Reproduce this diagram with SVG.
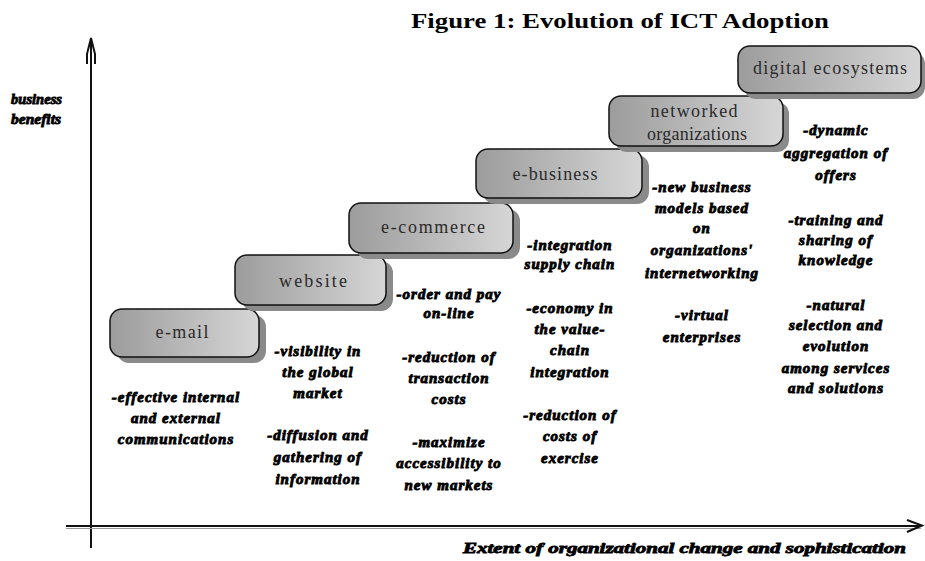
<svg xmlns="http://www.w3.org/2000/svg" width="925" height="561" viewBox="0 0 925 561">
  <style>
    .title { font-family: "Liberation Serif", "Times New Roman", serif; font-weight: bold; font-size: 22px; fill: #000; }
    .stage { fill: url(#stageFill); stroke: #111; stroke-width: 1.5; }
    .shadow { fill: #8a8a8a; }
    .stage-label { font-family: "Liberation Serif", "Times New Roman", serif; font-size: 18px; fill: #2a2a2a; text-anchor: middle; }
    .note { font-family: "Liberation Serif", "Times New Roman", serif; font-weight: bold; font-style: italic; font-size: 15px; letter-spacing: 1px; fill: #000; stroke: #000; stroke-width: 0.9; text-anchor: middle; }
    .axis-label { font-family: "Liberation Serif", "Times New Roman", serif; font-weight: bold; font-style: italic; font-size: 14px; fill: #000; stroke: #000; stroke-width: 0.8; }
    .axis { stroke: #111; stroke-width: 2; fill: none; }
  </style>
  <defs>
    <linearGradient id="stageFill" x1="0" y1="0" x2="1" y2="0">
      <stop offset="0" stop-color="#9c9c9c"/>
      <stop offset="1" stop-color="#d6d6d6"/>
    </linearGradient>
  </defs>

  <rect width="925" height="561" fill="#fff"/>

  <text class="title" x="411" y="28" textLength="418" lengthAdjust="spacingAndGlyphs">Figure 1: Evolution of ICT Adoption</text>

  <!-- axes -->
  <g id="axes">
    <line class="axis" x1="91" y1="38" x2="91" y2="548"/>
    <path class="axis" d="M87,64 L87,54 L91,38 L95,54 L95,64" stroke-width="1.6"/>
    <line class="axis" x1="66" y1="526" x2="921" y2="526"/>
    <line x1="66" y1="528.5" x2="921" y2="528.5" stroke="#999" stroke-width="1"/>
    <path class="axis" d="M907,520 L922,525.5 L907,532" stroke-width="1.6"/>
  </g>

  <text class="axis-label" x="11" y="104" textLength="51" lengthAdjust="spacingAndGlyphs">business</text>
  <text class="axis-label" x="11" y="124" textLength="50" lengthAdjust="spacingAndGlyphs">benefits</text>
  <text class="axis-label" x="463" y="553" textLength="443" lengthAdjust="spacingAndGlyphs">Extent of organizational change and sophistication</text>

  <!-- stages -->
  <g id="email">
    <rect class="shadow" x="117" y="315" width="149" height="48" rx="12"/>
    <rect class="stage" x="110" y="309" width="149" height="48" rx="12"/>
    <text class="stage-label" x="182" y="338" textLength="53" lengthAdjust="spacing">e-mail</text>
  </g>
  <g id="website">
    <rect class="shadow" x="242" y="261" width="151" height="50" rx="12"/>
    <rect class="stage" x="235" y="255" width="151" height="50" rx="12"/>
    <text class="stage-label" x="313" y="287" textLength="68" lengthAdjust="spacing">website</text>
  </g>
  <g id="ecommerce">
    <rect class="shadow" x="356" y="209" width="164" height="50" rx="12"/>
    <rect class="stage" x="349" y="203" width="164" height="50" rx="12"/>
    <text class="stage-label" x="433" y="233" textLength="104" lengthAdjust="spacing">e-commerce</text>
  </g>
  <g id="ebusiness">
    <rect class="shadow" x="483" y="155" width="166" height="49" rx="12"/>
    <rect class="stage" x="476" y="149" width="166" height="49" rx="12"/>
    <text class="stage-label" x="555" y="180" textLength="85" lengthAdjust="spacing">e-business</text>
  </g>
  <g id="networked">
    <rect class="shadow" x="615" y="102" width="174" height="50" rx="12"/>
    <rect class="stage" x="609" y="96" width="174" height="50" rx="12"/>
    <text class="stage-label" x="694" y="117" textLength="87" lengthAdjust="spacing">networked</text>
    <text class="stage-label" x="697" y="140" textLength="100" lengthAdjust="spacing">organizations</text>
  </g>
  <g id="ecosystems">
    <rect class="shadow" x="744" y="52" width="181" height="47" rx="12"/>
    <rect class="stage" x="738" y="46" width="183" height="47" rx="12"/>
    <text class="stage-label" x="830" y="74" textLength="154" lengthAdjust="spacing">digital ecosystems</text>
  </g>

  <!-- benefits per stage -->
  <g id="email-notes">
    <text class="note" x="176" y="402">-effective internal</text>
    <text class="note" x="176" y="423">and external</text>
    <text class="note" x="176" y="444">communications</text>
  </g>
  <g id="website-notes">
    <text class="note" x="318" y="356">-visibility in</text>
    <text class="note" x="318" y="377">the global</text>
    <text class="note" x="318" y="398">market</text>
    <text class="note" x="318" y="440">-diffusion and</text>
    <text class="note" x="318" y="462">gathering of</text>
    <text class="note" x="318" y="484">information</text>
  </g>
  <g id="ecommerce-notes">
    <text class="note" x="449" y="299">-order and pay</text>
    <text class="note" x="449" y="318">on-line</text>
    <text class="note" x="449" y="362">-reduction of</text>
    <text class="note" x="449" y="383">transaction</text>
    <text class="note" x="449" y="404">costs</text>
    <text class="note" x="449" y="447">-maximize</text>
    <text class="note" x="449" y="468">accessibility to</text>
    <text class="note" x="449" y="490">new markets</text>
  </g>
  <g id="ebusiness-notes">
    <text class="note" x="570" y="250">-integration</text>
    <text class="note" x="570" y="269">supply chain</text>
    <text class="note" x="570" y="313">-economy in</text>
    <text class="note" x="570" y="334">the value-</text>
    <text class="note" x="570" y="355">chain</text>
    <text class="note" x="570" y="377">integration</text>
    <text class="note" x="570" y="420">-reduction of</text>
    <text class="note" x="570" y="441">costs of</text>
    <text class="note" x="570" y="463">exercise</text>
  </g>
  <g id="networked-notes">
    <text class="note" x="702" y="192">-new business</text>
    <text class="note" x="702" y="213">models based</text>
    <text class="note" x="702" y="233">on</text>
    <text class="note" x="702" y="255">organizations'</text>
    <text class="note" x="702" y="278">internetworking</text>
    <text class="note" x="702" y="320">-virtual</text>
    <text class="note" x="702" y="342">enterprises</text>
  </g>
  <g id="ecosystems-notes">
    <text class="note" x="836" y="135">-dynamic</text>
    <text class="note" x="836" y="158">aggregation of</text>
    <text class="note" x="836" y="180">offers</text>
    <text class="note" x="836" y="225">-training and</text>
    <text class="note" x="836" y="245">sharing of</text>
    <text class="note" x="836" y="265">knowledge</text>
    <text class="note" x="836" y="310">-natural</text>
    <text class="note" x="836" y="330">selection and</text>
    <text class="note" x="836" y="351">evolution</text>
    <text class="note" x="836" y="373">among services</text>
    <text class="note" x="836" y="393">and solutions</text>
  </g>
</svg>
